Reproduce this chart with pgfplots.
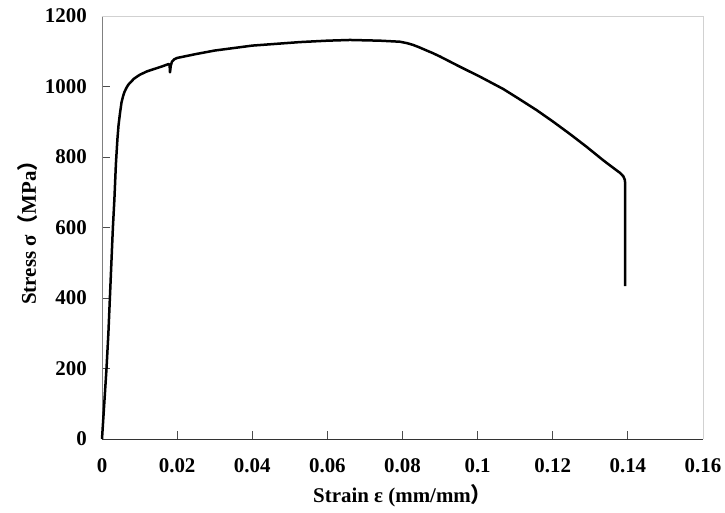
\documentclass[border=0pt]{standalone}
\usepackage{pgfplots}
\pgfplotsset{compat=1.18}
\usepackage{fontspec}
\setmainfont{Liberation Serif}
\newfontfamily\cjk{Noto Sans CJK SC}

\pgfplotstableread{
strain stress
0      0
0.0006 100
0.0012 200
0.0017 300
0.0021 400
0.0025 500
0.0029 600
0.0033 680
0.0037 780
0.0041 850
0.0044 890
0.0048 925
0.0052 955
0.0056 972
0.0060 985
0.0065 996
0.0070 1005
0.0085 1022
0.0100 1033
0.0120 1043
0.0140 1050
0.0160 1057
0.0178 1064
0.0180 1060
0.0181 1040
0.0183 1058
0.0186 1070
0.0192 1077
0.0200 1081
0.0250 1092
0.0300 1102
0.0400 1116
0.0527 1126
0.0600 1130
0.0660 1132
0.0740 1130
0.0793 1127
0.0812 1123
0.0828 1118
0.0845 1111
0.0860 1104
0.0880 1095
0.0900 1085
0.0953 1056
0.1006 1028
0.1068 993
0.1110 965
0.1157 933
0.1200 901
0.1246 865
0.1290 829
0.1334 791
0.1360 770
0.1379 755
0.1388 745
0.1392 735
0.1393 720
0.1393 434
}\curve

\begin{document}
\begin{tikzpicture}
\useasboundingbox (-102bp,-74bp) rectangle (623bp,439bp);
\begin{axis}[
  at={(0,0)}, anchor=south west,
  scale only axis,
  width=601bp, height=423bp,
  xmin=0, xmax=0.16, ymin=0, ymax=1200,
  xtick={0,0.02,...,0.16},
  ytick={0,200,...,1200},
  xticklabels={0,0.02,0.04,0.06,0.08,0.1,0.12,0.14,0.16},
  axis x line*=bottom, axis y line*=left,
  x axis line style={draw=black!80, line width=0.9bp, -},
  y axis line style={draw=black!50, line width=0.9bp, -},
  tick align=inside,
  major tick length=8bp,
  every tick/.style={black!70, line width=0.8bp},
  /pgf/number format/assume math mode=true,
  /pgf/number format/set thousands separator={},
  tick label style={font=\fontsize{21}{25}\selectfont\bfseries, inner sep=0pt},
  xticklabel style={anchor=center, yshift=-27bp},
  yticklabel style={anchor=east, xshift=-15bp},
  scaled x ticks=false,
  xlabel={Strain ε (mm/mm{\cjk ）}},
  ylabel={Stress σ{\cjk （}MPa{\cjk ）}},
  label style={font=\fontsize{21}{25}\selectfont\bfseries},
  xlabel style={at={(axis description cs:0.5,0)}, anchor=center, yshift=-57bp},
  ylabel style={at={(axis description cs:0,0.5)}, anchor=center, yshift=74bp},
  clip=false,
]
\draw[black!18, line width=0.9bp] (rel axis cs:0,1) -- (rel axis cs:1,1) -- (rel axis cs:1,0);
\addplot[black, line width=2.5bp, line join=round] table[x=strain, y=stress] {\curve};
\end{axis}
\end{tikzpicture}
\end{document}
